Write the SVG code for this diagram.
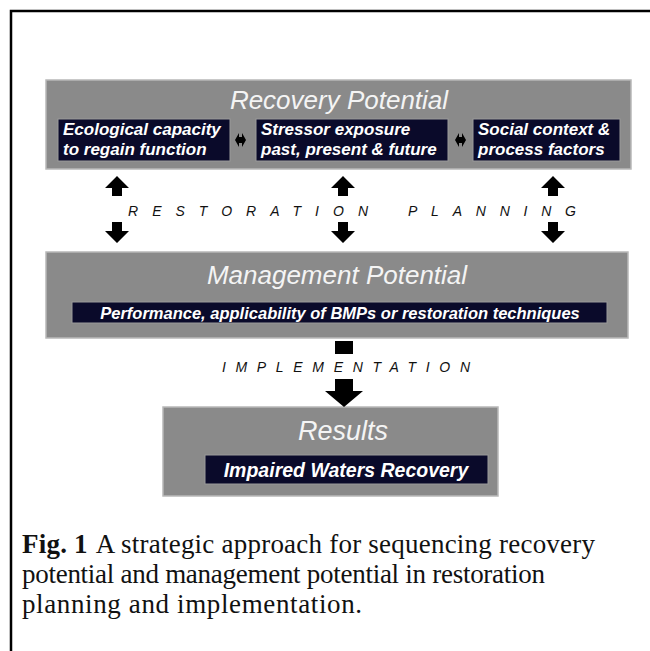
<svg xmlns="http://www.w3.org/2000/svg" width="650" height="651" viewBox="0 0 650 651">
<style>
.panel{fill:#8a8a8a;stroke:#b8b8b8;stroke-width:1.5}
.dark{fill:#0a0a2a;stroke:#9a9a9a;stroke-width:1}
.title{font-family:"Liberation Sans",Arial,sans-serif;font-style:italic;fill:#f4f4f4;text-anchor:middle}
.inner{font-family:"Liberation Sans",Arial,sans-serif;font-style:italic;font-weight:bold;fill:#ffffff}
.lbl{font-family:"Liberation Sans",Arial,sans-serif;font-style:italic;font-size:14px;fill:#111}
.cap{font-family:"Liberation Serif","Times New Roman",serif;font-size:27px;fill:#111}
.arr{fill:#000}
</style>
<rect width="650" height="651" fill="#fff"/>
<path d="M11 651 V11 H650" fill="none" stroke="#000" stroke-width="2.5"/>

<g id="recovery">
<rect class="panel" x="46" y="80" width="585" height="89"/>
<text class="title" x="339" y="109" font-size="26">Recovery Potential</text>
</g>
<g id="ecological">
<rect class="dark" x="58" y="119" width="172" height="42"/>
<text class="inner" x="63" y="135" font-size="17">Ecological capacity</text>
<text class="inner" x="63" y="155" font-size="17">to regain function</text>
</g>
<g id="stressor">
<rect class="dark" x="256" y="119" width="192" height="42"/>
<text class="inner" x="261" y="135" font-size="17">Stressor exposure</text>
<text class="inner" x="261" y="155" font-size="17">past, present &amp; future</text>
</g>
<g id="social">
<rect class="dark" x="473" y="119" width="147" height="42"/>
<text class="inner" x="478" y="135" font-size="17">Social context &amp;</text>
<text class="inner" x="478" y="155" font-size="17">process factors</text>
</g>

<g id="management">
<rect class="panel" x="46" y="252" width="582" height="86"/>
<text class="title" x="337" y="284" font-size="26">Management Potential</text>
</g>
<g id="bmps">
<rect class="dark" x="72" y="302" width="535" height="21"/>
<text class="inner" x="340" y="318.5" font-size="16.5" text-anchor="middle">Performance, applicability of BMPs or restoration techniques</text>
</g>

<g id="results">
<rect class="panel" x="163" y="407" width="335" height="89"/>
<text class="title" x="343" y="440" font-size="27">Results</text>
</g>
<g id="recoveryResult">
<rect class="dark" x="205" y="455" width="283" height="29"/>
<text class="inner" x="346" y="477" font-size="19.5" text-anchor="middle">Impaired Waters Recovery</text>
</g>

<g id="connectors">
<polygon class="arr" points="235,140 239,133 239,137 242,137 242,133 246,140 242,147 242,143 239,143 239,147"/>
<polygon class="arr" points="455,140 459,133 459,137 462,137 462,133 466,140 462,147 462,143 459,143 459,147"/>
<g id="upArrows">
<polygon class="arr" points="117,176 129,188 122,188 122,196 112,196 112,188 105,188"/>
<polygon class="arr" points="343,176 355,188 348,188 348,196 338,196 338,188 331,188"/>
<polygon class="arr" points="553,176 565,188 558,188 558,196 548,196 548,188 541,188"/>
</g>
<g id="downArrows">
<polygon class="arr" points="112,222 122,222 122,231 129,231 117,243 105,231 112,231"/>
<polygon class="arr" points="338,222 348,222 348,231 355,231 343,243 331,231 338,231"/>
<polygon class="arr" points="548,222 558,222 558,231 565,231 553,243 541,231 548,231"/>
</g>
<rect class="arr" x="335" y="341" width="18" height="13"/>
<polygon class="arr" points="335,379 353,379 353,391 363,391 344,407 325,391 335,391"/>
<text class="lbl" x="128" y="216" textLength="240" lengthAdjust="spacing">RESTORATION</text>
<text class="lbl" x="408" y="216" textLength="168" lengthAdjust="spacing">PLANNING</text>
<text class="lbl" x="222" y="372" textLength="248" lengthAdjust="spacing">IMPLEMENTATION</text>
</g>

<g id="caption">
<text class="cap" x="22" y="553" textLength="573" lengthAdjust="spacing"><tspan font-weight="bold">Fig. 1</tspan><tspan dx="8">A strategic approach for sequencing recovery</tspan></text>
<text class="cap" x="22" y="583" textLength="523" lengthAdjust="spacing">potential and management potential in restoration</text>
<text class="cap" x="22" y="613" textLength="340" lengthAdjust="spacing">planning and implementation.</text>
</g>
</svg>
